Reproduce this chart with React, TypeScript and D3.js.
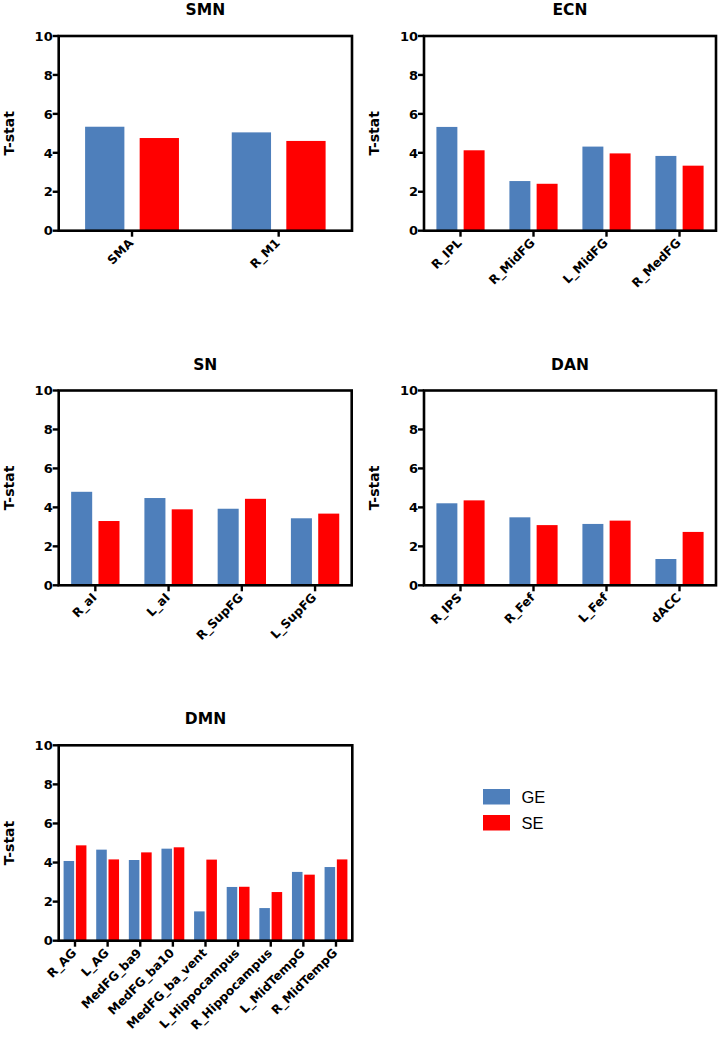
import React from "react";
import * as d3 from "d3";

const seriesNames = ["GE", "SE"];
const seriesColors = ["#4e7fbb", "#ff0000"];
const yTicks = [0, 2, 4, 6, 8, 10];

const smnCategories = ["SMA", "R_M1"];
const smnGE = [5.34, 5.05];
const smnSE = [4.76, 4.61];

const ecnCategories = ["R_IPL", "R_MidFG", "L_MidFG", "R_MedFG"];
const ecnGE = [5.33, 2.55, 4.32, 3.84];
const ecnSE = [4.13, 2.41, 3.97, 3.34];

const snCategories = ["R_aI", "L_aI", "R_SupFG", "L_SupFG"];
const snGE = [4.8, 4.48, 3.93, 3.44];
const snSE = [3.3, 3.9, 4.44, 3.68];

const danCategories = ["R_IPS", "R_Fef", "L_Fef", "dACC"];
const danGE = [4.21, 3.49, 3.15, 1.35];
const danSE = [4.36, 3.09, 3.32, 2.74];

const dmnCategories = [
  "R_AG", "L_AG", "MedFG_ba9", "MedFG_ba10", "MedFG_ba_vent",
  "L_Hippocampus", "R_Hippocampus", "L_MidTempG", "R_MidTempG",
];
const dmnGE = [4.08, 4.66, 4.13, 4.71, 1.5, 2.75, 1.67, 3.52, 3.77];
const dmnSE = [4.88, 4.16, 4.52, 4.78, 4.15, 2.76, 2.49, 3.38, 4.16];

const BOLD = "'DejaVu Sans', 'Liberation Sans', Arial, sans-serif";
const FONT = "'Liberation Sans', Arial, Helvetica, sans-serif";

type PanelProps = {
  title: string;
  categories: string[];
  ge: number[];
  se: number[];
  left: number;
  right: number;
  top: number;
  bottom: number;
  groupFrac: number;
  innerPad: number;
};

function Panel(p: PanelProps) {
  const x = d3.scaleBand<string>().domain(p.categories).range([p.left, p.right]).padding(0);
  const y = d3.scaleLinear().domain([0, 10]).range([p.bottom, p.top]);
  const gw = x.bandwidth() * p.groupFrac;
  const x1 = d3.scaleBand<string>().domain(seriesNames).range([0, gw]).paddingInner(p.innerPad).paddingOuter(0);
  const vals = [p.ge, p.se];
  const cx = (c: string) => (x(c) as number) + x.bandwidth() / 2;
  return (
    <g>
      <text x={(p.left + p.right) / 2} y={p.top - 21} textAnchor="middle" fontFamily={BOLD} fontWeight="bold" fontSize={15.5}>
        {p.title}
      </text>
      <text
        transform={`translate(${p.left - 50},${(p.top + p.bottom) / 2}) rotate(-90)`}
        textAnchor="middle"
        dominantBaseline="central"
        fontFamily={BOLD}
        fontWeight="bold"
        fontSize={14}
      >
        T-stat
      </text>
      {p.categories.map((c, i) =>
        seriesNames.map((s, k) => (
          <rect
            key={c + s}
            x={cx(c) - gw / 2 + (x1(s) as number)}
            y={y(vals[k][i])}
            width={x1.bandwidth()}
            height={y(0) - y(vals[k][i])}
            fill={seriesColors[k]}
          />
        ))
      )}
      <rect x={p.left} y={p.top} width={p.right - p.left} height={p.bottom - p.top} fill="none" stroke="#000" strokeWidth={2.6} />
      {yTicks.map((t) => (
        <g key={t}>
          <line x1={p.left - 6} x2={p.left} y1={y(t)} y2={y(t)} stroke="#000" strokeWidth={2.4} />
          <text x={p.left - 6} y={y(t)} dy="0.36em" textAnchor="end" fontFamily={BOLD} fontWeight="bold" fontSize={13}>
            {t}
          </text>
        </g>
      ))}
      {p.categories.map((c) => (
        <g key={c}>
          <line x1={cx(c)} x2={cx(c)} y1={p.bottom} y2={p.bottom + 6} stroke="#000" strokeWidth={2.4} />
          <text
            transform={`translate(${cx(c) - 4},${p.bottom + 7}) rotate(-45)`}
            textAnchor="end"
            dy="0.7em"
            fontFamily={BOLD}
            fontWeight="bold"
            fontSize={12.2}
          >
            {c}
          </text>
        </g>
      ))}
    </g>
  );
}

export default function App() {
  return (
    <svg width={720} height={1042} style={{ position: "absolute", left: 0, top: 0, background: "#fff" }}>
      <rect x={0} y={0} width={720} height={1042} fill="#fff" />
      <Panel title="SMN" categories={smnCategories} ge={smnGE} se={smnSE} left={58.7} right={352} top={36} bottom={230.7} groupFrac={0.64} innerPad={0.28} />
      <Panel title="ECN" categories={ecnCategories} ge={ecnGE} se={ecnSE} left={424} right={716} top={36} bottom={230.7} groupFrac={0.66} innerPad={0.23} />
      <Panel title="SN" categories={snCategories} ge={snGE} se={snSE} left={58.7} right={351.7} top={390.5} bottom={585.3} groupFrac={0.66} innerPad={0.23} />
      <Panel title="DAN" categories={danCategories} ge={danGE} se={danSE} left={424} right={716} top={390.5} bottom={585.3} groupFrac={0.66} innerPad={0.23} />
      <Panel title="DMN" categories={dmnCategories} ge={dmnGE} se={dmnSE} left={58.7} right={352.3} top={745.3} bottom={940.7} groupFrac={0.7} innerPad={0.14} />
      {seriesNames.map((s, k) => (
        <g key={s}>
          <rect x={483} y={789 + k * 26} width={27} height={15.5} fill={seriesColors[k]} />
          <text x={521.5} y={803.3 + k * 25.7} fontFamily={FONT} fontSize={16.5}>
            {s}
          </text>
        </g>
      ))}
    </svg>
  );
}
